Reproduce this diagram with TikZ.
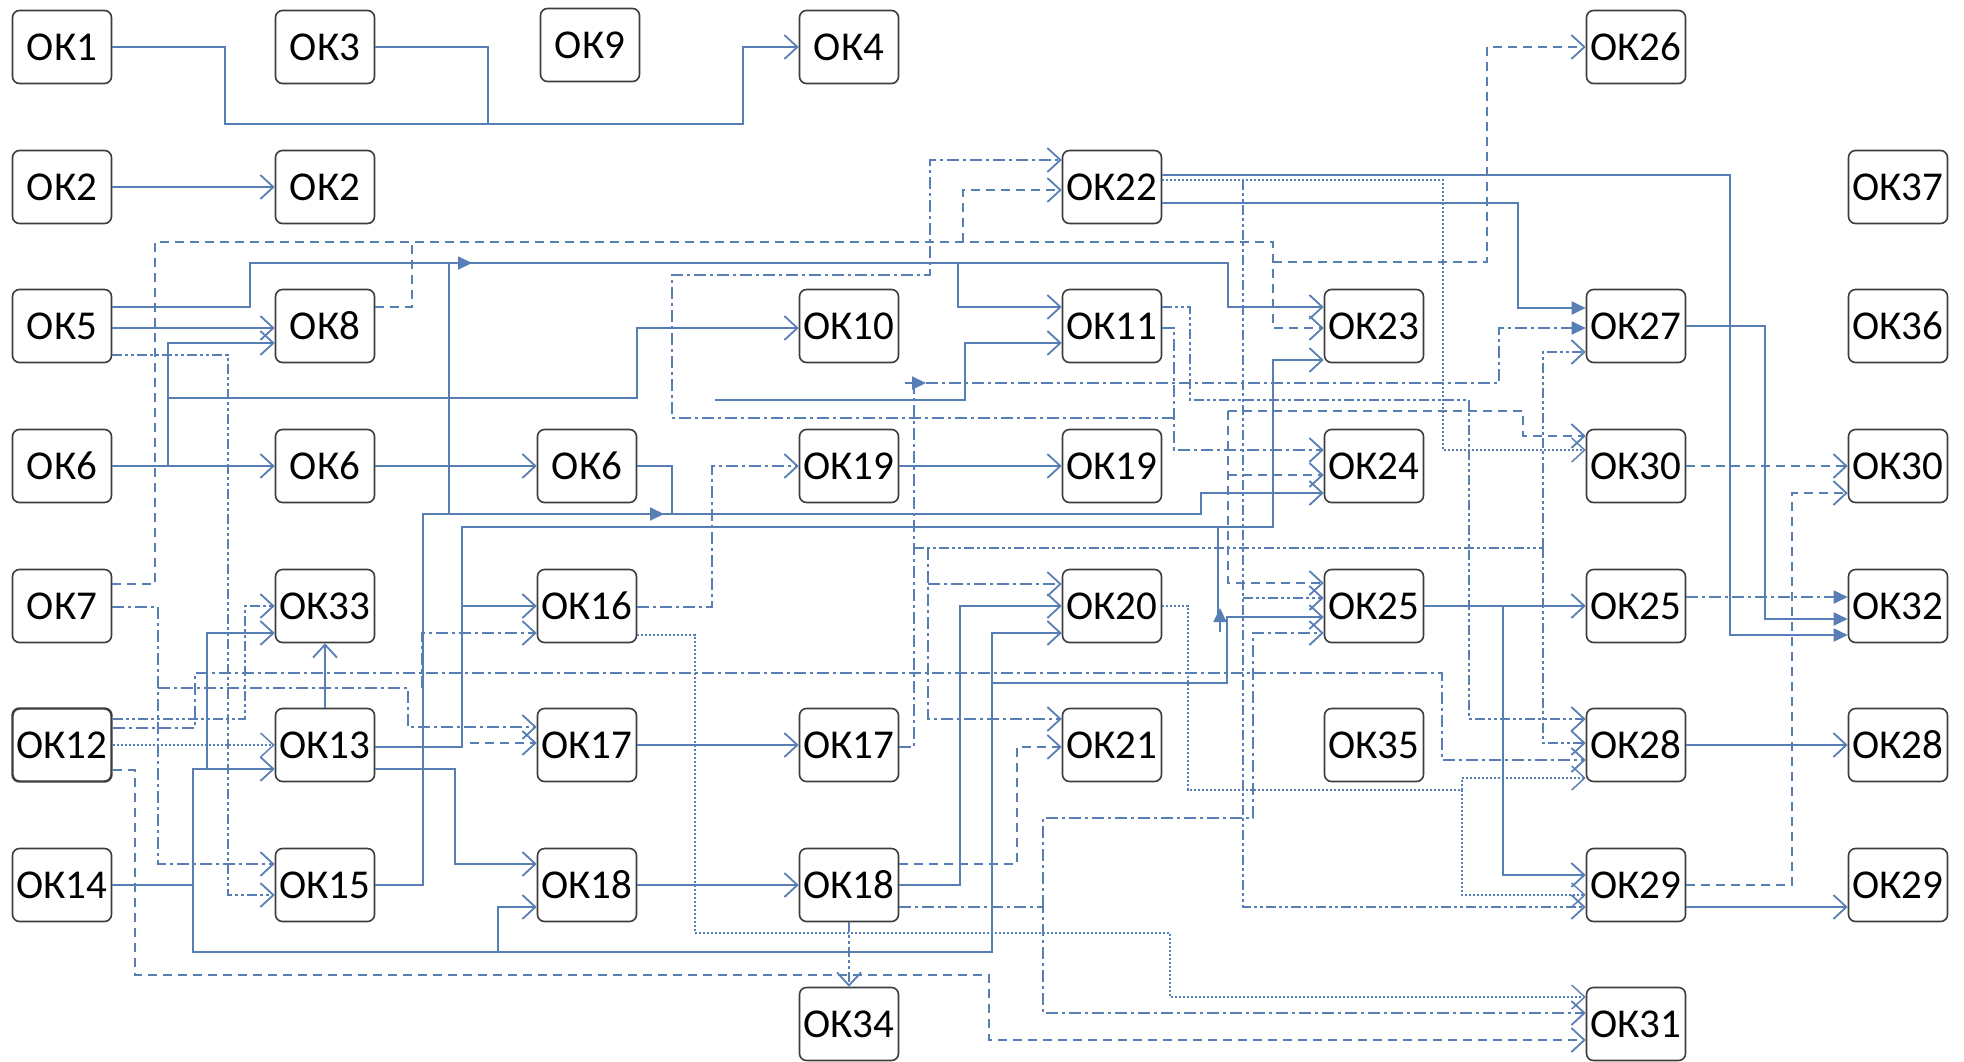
\documentclass[tikz,border=0pt]{standalone}
\usepackage{fontspec}
\setmainfont{Carlito}
\usetikzlibrary{arrows.meta}
\definecolor{lc}{RGB}{88,126,182}
\definecolor{bc}{RGB}{60,60,60}
\tikzset{
  box/.style={draw=bc, line width=1.6pt, rounded corners=7pt, minimum width=99pt, minimum height=73pt, inner sep=0pt, fill=white, font=\fontsize{41}{48}\selectfont},
  ln/.style={draw=lc, line width=1.8pt},
  sol/.style={ln},
  dsh/.style={ln, dash pattern=on 9pt off 6pt},
  dd/.style={ln, dash pattern=on 12pt off 4pt on 3pt off 4pt},
  ddd/.style={ln, dash pattern=on 10pt off 3pt on 3pt off 3pt on 3pt off 3pt},
  dot/.style={ln, line width=1.4pt, dash pattern=on 2pt off 2pt},
  oa/.style={-{Straight Barb[length=13pt,width=24pt]}},
  fa/.style={-{Triangle[length=14pt,width=13pt]}}
}
\begin{document}
\begin{tikzpicture}[x=1pt,y=-1pt]
\fill[white] (0,0) rectangle (1964,1061);
\useasboundingbox (0,0) rectangle (1964,1061);
% nodes
\node[box] (n1) at (62,47) {ОК1};
\node[box] (n3) at (325,47) {ОК3};
\node[box] (n9) at (590,45) {ОК9};
\node[box] (n4) at (849,47) {ОК4};
\node[box] (n26) at (1636,47) {ОК26};
\node[box] (n2a) at (62,187) {ОК2};
\node[box] (n2b) at (325,187) {ОК2};
\node[box] (n22) at (1112,187) {ОК22};
\node[box] (n37) at (1898,187) {ОК37};
\node[box] (n5) at (62,326) {ОК5};
\node[box] (n8) at (325,326) {ОК8};
\node[box] (n10) at (849,326) {ОК10};
\node[box] (n11) at (1112,326) {ОК11};
\node[box] (n23) at (1374,326) {ОК23};
\node[box] (n27) at (1636,326) {ОК27};
\node[box] (n36) at (1898,326) {ОК36};
\node[box] (n6a) at (62,466) {ОК6};
\node[box] (n6b) at (325,466) {ОК6};
\node[box] (n6c) at (587,466) {ОК6};
\node[box] (n19a) at (849,466) {ОК19};
\node[box] (n19b) at (1112,466) {ОК19};
\node[box] (n24) at (1374,466) {ОК24};
\node[box] (n30a) at (1636,466) {ОК30};
\node[box] (n30b) at (1898,466) {ОК30};
\node[box] (n7) at (62,606) {ОК7};
\node[box] (n33) at (325,606) {ОК33};
\node[box] (n16) at (587,606) {ОК16};
\node[box] (n20) at (1112,606) {ОК20};
\node[box] (n25a) at (1374,606) {ОК25};
\node[box] (n25b) at (1636,606) {ОК25};
\node[box] (n32) at (1898,606) {ОК32};
\node[box, line width=2.4pt] (n12) at (62,745) {ОК12};
\node[box] (n13) at (325,745) {ОК13};
\node[box] (n17a) at (587,745) {ОК17};
\node[box] (n17b) at (849,745) {ОК17};
\node[box] (n21) at (1112,745) {ОК21};
\node[box] (n35) at (1374,745) {ОК35};
\node[box] (n28a) at (1636,745) {ОК28};
\node[box] (n28b) at (1898,745) {ОК28};
\node[box] (n14) at (62,885) {ОК14};
\node[box] (n15) at (325,885) {ОК15};
\node[box] (n18a) at (587,885) {ОК18};
\node[box] (n18b) at (849,885) {ОК18};
\node[box] (n29a) at (1636,885) {ОК29};
\node[box] (n29b) at (1898,885) {ОК29};
\node[box] (n34) at (849,1024) {ОК34};
\node[box] (n31) at (1636,1024) {ОК31};
% top
\draw[sol,oa] (n1.east) -- (225,47) -- (225,124) -- (743,124) -- (743,47) -- (n4.west);
\draw[sol] (n3.east) -- (488,47) -- (488,124);
\draw[sol,oa] (n2a.east) -- (n2b.west);
% dashed network from OK7 / OK8
\draw[dsh,oa] ([yshift=22pt]n7.east) -- (155,584) -- (155,242) -- (1273,242) -- (1273,328) -- ([yshift=-2pt]n23.west);
\draw[dsh] ([yshift=19pt]n8.east) -- (412,307) -- (412,242);
\draw[dsh,oa] (963,242) -- (963,190) -- ([yshift=-3pt]n22.west);
\draw[dsh,oa] (1273,262) -- (1487,262) -- (1487,47) -- (n26.west);
% OK5 solid
\draw[sol,oa] ([yshift=19pt]n5.east) -- (250,307) -- (250,263) -- (958,263) -- (958,307) -- ([yshift=19pt]n11.west);
\draw[sol,oa] (958,263) -- (1228,263) -- (1228,307) -- ([yshift=19pt]n23.west);
\draw[sol,fa] (440,263) -- (472,263);
\draw[sol,oa] ([yshift=-2pt]n5.east) -- ([yshift=-2pt]n8.west);
\draw[sol,oa] (n6a.east) -- (n6b.west);
\draw[sol,oa] (168,466) -- (168,343) -- ([yshift=-17pt]n8.west);
\draw[sol,oa] (168,398) -- (637,398) -- (637,328) -- ([yshift=-2pt]n10.west);
\draw[ddd,oa] ([yshift=-29pt]n5.east) -- (228,355) -- (228,895) -- ([yshift=-10pt]n15.west);
\draw[sol,oa] (n6b.east) -- (n6c.west);
\draw[sol] (n6c.east) -- (672,466) -- (672,514);
\draw[sol,oa] (n15.east) -- (423,885) -- (423,514) -- (1201,514) -- (1201,493) -- ([yshift=-27pt]n24.west);
\draw[sol,fa] (640,514) -- (664,514);
\draw[sol] (449,514) -- (449,263);
\draw[sol,oa] ([yshift=-2pt]n13.east) -- (462,747) -- (462,527) -- (1273,527) -- (1273,360) -- ([yshift=-34pt]n23.west);
\draw[sol,oa] (462,606) -- (n16.west);
\draw[dsh,oa] (470,743) -- ([yshift=2pt]n17a.west);
\draw[sol,oa] ([yshift=-24pt]n13.east) -- (455,769) -- (455,864) -- ([yshift=21pt]n18a.west);
\draw[sol,oa] (n13.north) -- (n33.south);
\draw[sol,oa] (n14.east) -- (193,885) -- (193,769) -- ([yshift=-24pt]n13.west);
\draw[sol,oa] (193,885) -- (193,952) -- (992,952) -- (992,633) -- ([yshift=-27pt]n20.west);
\draw[sol,oa] (498,952) -- (498,907) -- ([yshift=-22pt]n18a.west);
\draw[sol,oa] (207,769) -- (207,633) -- ([yshift=-27pt]n33.west);
\draw[sol,oa] (992,683) -- (1227,683) -- (1227,617) -- ([yshift=-11pt]n25a.west);
\draw[sol] (1218,527) -- (1218,617);
\draw[sol,fa] (1220,632) -- (1220,608);
\draw[sol,oa] (n18b.east) -- (960,885) -- (960,606) -- (n20.west);
\draw[dsh,oa] ([yshift=21pt]n18b.east) -- (1017,864) -- (1017,747) -- ([yshift=-2pt]n21.west);
\draw[dd,oa] ([yshift=-22pt]n18b.east) -- (1043,907) -- (1043,1013) -- ([yshift=11pt]n31.west);
\draw[dd,oa] (1043,907) -- (1043,818) -- (1253,818) -- (1253,633) -- ([yshift=-27pt]n25a.west);
\draw[ddd,oa] (n18b.south) -- (n34.north);
\draw[sol,oa] (n17a.east) -- (n17b.west);
\draw[sol,oa] (n18a.east) -- (n18b.west);
\draw[dd,fa] ([yshift=-2pt]n17b.east) -- (914,747) -- (914,383) -- (1499,383) -- (1499,328) -- ([yshift=-2pt]n27.west);
\draw[sol,fa] (905,383) -- (926,383);
\draw[ddd] (914,548) -- (1543,548);
\draw[ddd,oa] (1543,548) -- (1543,743) -- ([yshift=2pt]n28a.west);
\draw[ddd,oa] (1543,548) -- (1543,352) -- ([yshift=-26pt]n27.west);
\draw[dd,oa] (928,548) -- (928,719) -- ([yshift=26pt]n21.west);
\draw[dd,oa] (928,584) -- ([yshift=22pt]n20.west);
\draw[sol,oa] (n19a.east) -- (n19b.west);
\draw[dd,oa] ([yshift=-1pt]n16.east) -- (712,607) -- (712,466) -- (n19a.west);
\draw[dd,oa] ([yshift=17pt]n12.east) -- (195,728) -- (195,673) -- (1442,673) -- (1442,760) -- ([yshift=-15pt]n28a.west);
\draw[dot,oa] ([yshift=-29pt]n16.east) -- (695,635) -- (695,933) -- (1170,933) -- (1170,997) -- ([yshift=27pt]n31.west);
\draw[dsh,oa] ([yshift=-25pt]n12.east) -- (135,770) -- (135,975) -- (989,975) -- (989,1040) -- ([yshift=-16pt]n31.west);
\draw[ddd,oa] ([yshift=26pt]n12.east) -- (245,719) -- (245,606) -- (n33.west);
\draw[dot,oa] (n12.east) -- (n13.west);
\draw[dd,oa] ([yshift=-1pt]n7.east) -- (158,607) -- (158,864) -- ([yshift=21pt]n15.west);
\draw[dd,oa] (158,688) -- (408,688) -- (408,727) -- ([yshift=18pt]n17a.west);
\draw[dd,oa] (422,688) -- (422,633) -- ([yshift=-27pt]n16.west);
\draw[sol,oa] (715,400) -- (965,400) -- (965,343) -- ([yshift=-17pt]n11.west);
\draw[dd,oa] ([yshift=-2pt]n11.east) -- (1174,328) -- (1174,450) -- ([yshift=16pt]n24.west);
\draw[dd,oa] (1174,418) -- (672,418) -- (672,275) -- (930,275) -- (930,160) -- ([yshift=27pt]n22.west);
\draw[ddd,oa] ([yshift=19pt]n11.east) -- (1190,307) -- (1190,400) -- (1469,400) -- (1469,719) -- ([yshift=26pt]n28a.west);
\draw[sol,fa] ([yshift=12pt]n22.east) -- (1730,175) -- (1730,635) -- ([yshift=-29pt]n32.west);
\draw[sol,fa] ([yshift=-16pt]n22.east) -- (1518,203) -- (1518,308) -- ([yshift=18pt]n27.west);
\draw[dot,oa] ([yshift=7pt]n22.east) -- (1443,180) -- (1443,450) -- ([yshift=16pt]n30a.west);
\draw[ddd,oa] (1243,180) -- (1243,907) -- ([yshift=-22pt]n29a.west);
\draw[ddd,oa] (1243,598) -- ([yshift=8pt]n25a.west);
\draw[sol,fa] (n27.east) -- (1765,326) -- (1765,619) -- ([yshift=-13pt]n32.west);
\draw[dd,fa] ([yshift=9pt]n25b.east) -- ([yshift=9pt]n32.west);
\draw[sol,oa] (n25a.east) -- (n25b.west);
\draw[sol,oa] (1503,606) -- (1503,875) -- ([yshift=10pt]n29a.west);
\draw[sol,oa] (n28a.east) -- (n28b.west);
\draw[sol,oa] ([yshift=-22pt]n29a.east) -- ([yshift=-22pt]n29b.west);
\draw[dsh,oa] (n29a.east) -- (1792,885) -- (1792,493) -- ([yshift=-27pt]n30b.west);
\draw[dsh,oa] (n30a.east) -- (n30b.west);
\draw[dsh,oa] (1228,411) -- (1523,411) -- (1523,436) -- ([yshift=30pt]n30a.west);
\draw[dsh,oa] (1228,411) -- (1228,583) -- ([yshift=23pt]n25a.west);
\draw[dsh,oa] (1228,475) -- ([yshift=-9pt]n24.west);
\draw[dot,oa] (n20.east) -- (1188,606) -- (1188,790) -- (1462,790) -- (1462,778) -- ([yshift=-33pt]n28a.west);
\draw[dot,oa] (1462,790) -- (1462,895) -- ([yshift=-10pt]n29a.west);
\end{tikzpicture}
\end{document}
